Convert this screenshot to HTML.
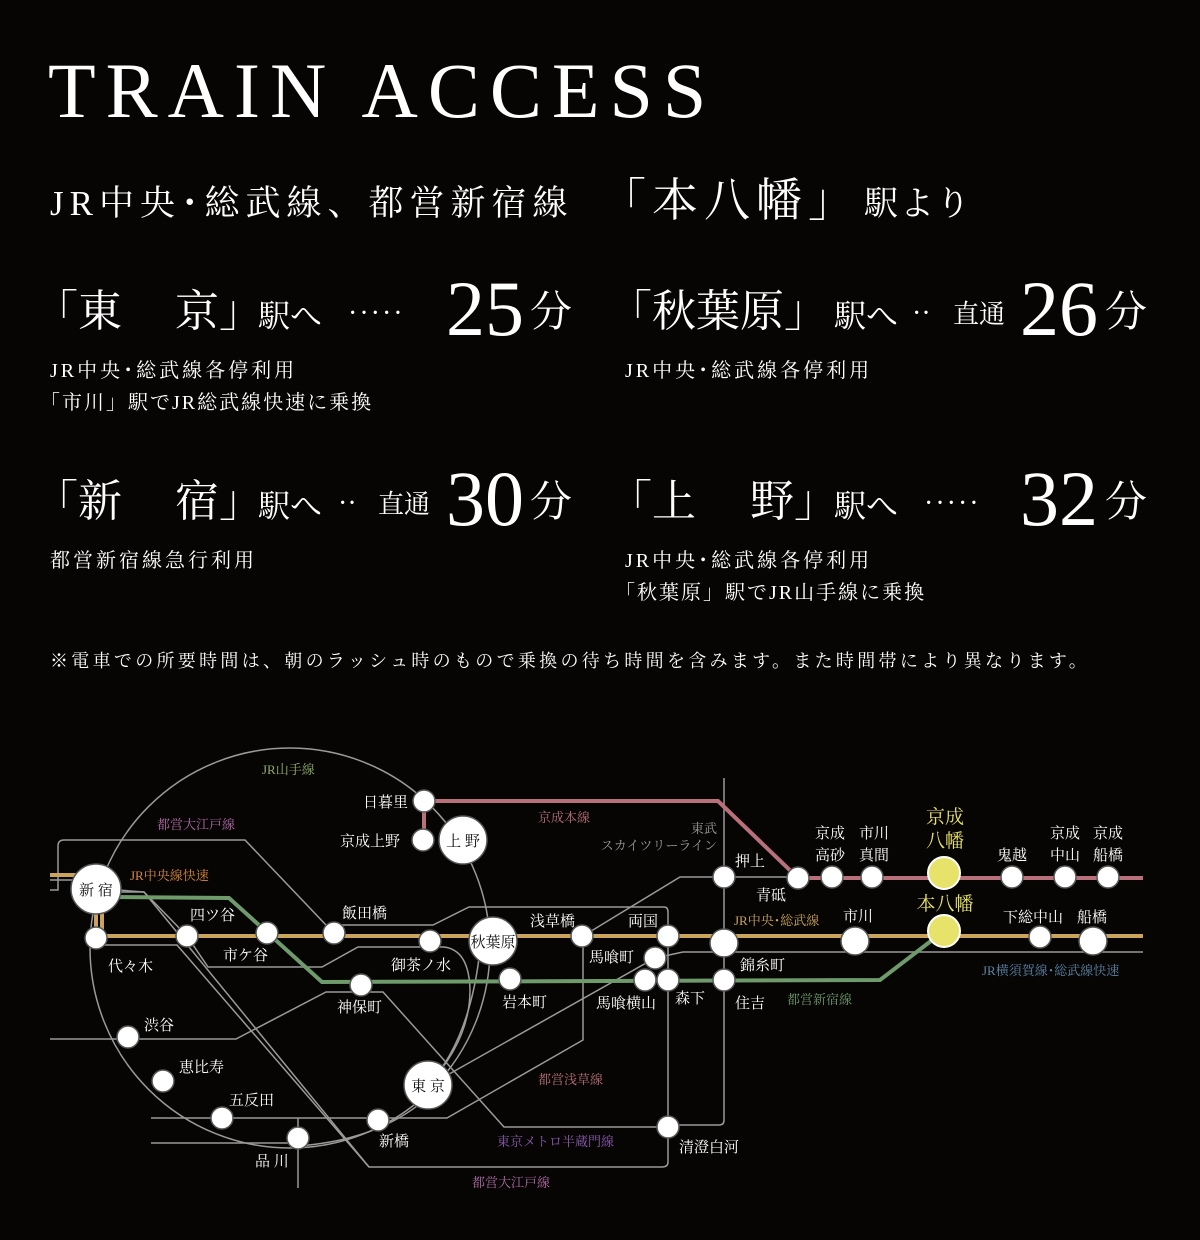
<!DOCTYPE html>
<html><head><meta charset="utf-8"><style>
html,body{margin:0;padding:0;background:#070503;}
body{width:1200px;height:1240px;position:relative;overflow:hidden;color:#fff;font-family:"Liberation Serif","Noto Serif CJK SC",serif;}
.a{position:absolute;white-space:nowrap;line-height:1;}
svg{position:absolute;left:0;top:0;}
</style></head><body>
<div class="a" style="left:48px;top:52px;font-size:78px;letter-spacing:10px;">TRAIN ACCESS</div>

<div class="a" style="left:50px;top:186px;font-size:35px;letter-spacing:6px;">JR中央･総武線、都営新宿線</div>
<div class="a" style="left:600px;top:178px;font-size:46px;letter-spacing:6px;">「本八幡」</div>
<div class="a" style="left:864px;top:188px;font-size:34px;letter-spacing:2px;">駅より</div>

<!-- row 1 -->
<div class="a" style="left:34px;top:290px;font-size:44px;">「東</div>
<div class="a" style="left:175px;top:290px;font-size:44px;">京」</div>
<div class="a" style="left:258px;top:300px;font-size:32px;">駅へ</div>
<div class="a" style="left:348px;top:300px;font-size:28px;letter-spacing:2px;">·····</div>
<div class="a" style="left:446px;top:270px;font-size:78px;">25</div>
<div class="a" style="left:530px;top:292px;font-size:42px;">分</div>
<div class="a" style="left:50px;top:361px;font-size:20px;letter-spacing:3px;">JR中央･総武線各停利用</div>
<div class="a" style="left:40px;top:393px;font-size:20px;letter-spacing:2px;">「市川」駅でJR総武線快速に乗換</div>

<div class="a" style="left:608px;top:290px;font-size:44px;letter-spacing:0px;">「秋葉原」</div>
<div class="a" style="left:834px;top:300px;font-size:32px;">駅へ</div>
<div class="a" style="left:912px;top:300px;font-size:28px;">··</div>
<div class="a" style="left:953px;top:302px;font-size:26px;">直通</div>
<div class="a" style="left:1020px;top:270px;font-size:78px;">26</div>
<div class="a" style="left:1105px;top:292px;font-size:42px;">分</div>
<div class="a" style="left:625px;top:361px;font-size:20px;letter-spacing:3px;">JR中央･総武線各停利用</div>

<!-- row 2 -->
<div class="a" style="left:34px;top:480px;font-size:44px;">「新</div>
<div class="a" style="left:175px;top:480px;font-size:44px;">宿」</div>
<div class="a" style="left:258px;top:490px;font-size:32px;">駅へ</div>
<div class="a" style="left:338px;top:490px;font-size:28px;">··</div>
<div class="a" style="left:378px;top:492px;font-size:26px;">直通</div>
<div class="a" style="left:446px;top:460px;font-size:78px;">30</div>
<div class="a" style="left:530px;top:482px;font-size:42px;">分</div>
<div class="a" style="left:50px;top:551px;font-size:20px;letter-spacing:3px;">都営新宿線急行利用</div>

<div class="a" style="left:608px;top:480px;font-size:44px;">「上</div>
<div class="a" style="left:750px;top:480px;font-size:44px;">野」</div>
<div class="a" style="left:834px;top:490px;font-size:32px;">駅へ</div>
<div class="a" style="left:924px;top:490px;font-size:28px;letter-spacing:2px;">·····</div>
<div class="a" style="left:1020px;top:460px;font-size:78px;">32</div>
<div class="a" style="left:1105px;top:482px;font-size:42px;">分</div>
<div class="a" style="left:625px;top:551px;font-size:20px;letter-spacing:3px;">JR中央･総武線各停利用</div>
<div class="a" style="left:615px;top:583px;font-size:20px;letter-spacing:2px;">「秋葉原」駅でJR山手線に乗換</div>

<div class="a" style="left:50px;top:652px;font-size:18px;letter-spacing:3.3px;">※電車での所要時間は、朝のラッシュ時のもので乗換の待ち時間を含みます。また時間帯により異なります。</div>

<svg width="1200" height="1240" viewBox="0 0 1200 1240" font-family="Liberation Serif, Noto Serif CJK SC, serif">
<g fill="none" stroke="#9a9a9a" stroke-width="1.5">
 <circle cx="290" cy="948" r="200"/>
 <path d="M298 1146 Q380 1140 428 1097"/>
 <path d="M480 950 Q470 1040 428 1085"/>
 <path d="M50 890 L58 890 L58 846 Q58 840 64 840 L245 840 L326 925 L433 925 L469 907 L664 907 Q668 907 668 912 L668 1162 Q668 1167 662 1167 L369 1167 L144 892 L118 890"/>
 <path d="M96 945 L177 945 L369 1167"/>
 <path d="M118 892 L144 892 L187 936 L208 967 L322 967 L358 947 L444 947 Q469 950 470 990 Q470 1040 428 1085"/>
 <path d="M50 1039 L236 1039 L326 992 L383 992 L504 1127 L668 1127"/>
 <path d="M151 1118 L447 1118 L583 1040 L583 936 L680 877 L798 877"/>
 <path d="M428 1085 L451 1073 L655 958 L683 952 L1143 952"/>
 <path d="M151 1143 L298 1143"/>
 <path d="M298 1118 L298 1188"/>
 <path d="M724 778 L724 1120 Q724 1125 719 1125 L668 1125"/>
 <path d="M50 880 L84 880"/>
</g>
<g fill="none" stroke="#c9a45a" stroke-width="4">
 <path d="M50 875 L80 875"/>
 <path d="M96 905 L96 936 L1143 936"/>
 <path d="M102 905 L102 936"/>
</g>
<path d="M424 840 L424 801 L718 801 L798 878 L1143 878" fill="none" stroke="#b8707a" stroke-width="4"/>
<path d="M110 897 L229 898 L322 982 L880 980 L944 931" fill="none" stroke="#6f9a6c" stroke-width="4"/>

<g fill="#fff" stroke="#555" stroke-width="1.5">
 <circle cx="96" cy="889" r="25"/><circle cx="96" cy="938" r="11"/>
 <circle cx="187" cy="936" r="11"/><circle cx="267" cy="933" r="11"/><circle cx="334" cy="933" r="11"/>
 <circle cx="430" cy="941" r="11"/><circle cx="493" cy="941" r="24"/><circle cx="582" cy="936" r="11"/>
 <circle cx="668" cy="936" r="11"/><circle cx="724" cy="943" r="14"/><circle cx="855" cy="941" r="14"/>
 <circle cx="1040" cy="937" r="11"/><circle cx="1093" cy="941" r="14"/>
 <circle cx="424" cy="801" r="11"/><circle cx="423" cy="840" r="11"/><circle cx="463" cy="840" r="24"/>
 <circle cx="724" cy="877" r="11"/><circle cx="798" cy="878" r="11"/><circle cx="832" cy="877" r="11"/>
 <circle cx="872" cy="877" r="11"/><circle cx="1012" cy="877" r="11"/><circle cx="1065" cy="877" r="11"/><circle cx="1108" cy="877" r="11"/>
 <circle cx="361" cy="985" r="11"/><circle cx="510" cy="979" r="11"/><circle cx="645" cy="980" r="11"/>
 <circle cx="668" cy="980" r="11"/><circle cx="724" cy="980" r="11"/><circle cx="655" cy="958" r="11"/>
 <circle cx="128" cy="1037" r="11"/><circle cx="163" cy="1081" r="11"/><circle cx="222" cy="1118" r="11"/>
 <circle cx="298" cy="1138" r="11"/><circle cx="378" cy="1120" r="11"/><circle cx="428" cy="1085" r="24"/>
 <circle cx="668" cy="1127" r="11"/>
</g>
<g fill="#e6e26a" stroke="#fff" stroke-width="2">
 <circle cx="944" cy="873" r="16"/><circle cx="944" cy="931" r="16"/>
</g>

<g fill="#111" font-size="15" text-anchor="middle">
 <text x="96" y="895">新 宿</text><text x="493" y="947">秋葉原</text><text x="463" y="846">上 野</text><text x="428" y="1091">東 京</text>
</g>
<g fill="#fff" font-size="15">
 <text x="363" y="807">日暮里</text><text x="340" y="846">京成上野</text>
 <text x="190" y="920">四ツ谷</text><text x="223" y="960">市ケ谷</text><text x="342" y="918">飯田橋</text>
 <text x="391" y="970">御茶ノ水</text><text x="108" y="971">代々木</text><text x="530" y="926">浅草橋</text>
 <text x="628" y="926">両国</text><text x="589" y="962">馬喰町</text><text x="337" y="1012">神保町</text>
 <text x="502" y="1007">岩本町</text><text x="596" y="1008">馬喰横山</text><text x="675" y="1003">森下</text>
 <text x="735" y="1008">住吉</text><text x="740" y="970">錦糸町</text><text x="735" y="866">押上</text>
 <text x="756" y="900">青砥</text><text x="843" y="921">市川</text>
 <text x="815" y="838">京成</text><text x="815" y="860">高砂</text><text x="859" y="838">市川</text><text x="859" y="860">真間</text>
 <text x="997" y="860">鬼越</text><text x="1050" y="838">京成</text><text x="1050" y="860">中山</text>
 <text x="1093" y="838">京成</text><text x="1093" y="860">船橋</text>
 <text x="1003" y="922">下総中山</text><text x="1077" y="922">船橋</text>
 <text x="144" y="1030">渋谷</text><text x="179" y="1072">恵比寿</text><text x="229" y="1105">五反田</text>
 <text x="255" y="1166">品 川</text><text x="379" y="1146">新橋</text><text x="679" y="1152">清澄白河</text>
</g>
<g fill="#e6e26a" font-size="19" text-anchor="middle">
 <text x="945" y="823">京成</text><text x="945" y="847">八幡</text><text x="945" y="910">本八幡</text>
</g>
<g font-size="13">
 <text x="262" y="774" fill="#8fae6a">JR山手線</text>
 <text x="157" y="829" fill="#b06aa8">都営大江戸線</text>
 <text x="130" y="880" fill="#d88a3a">JR中央線快速</text>
 <text x="538" y="822" fill="#b8707a">京成本線</text>
 <text x="717" y="833" fill="#999" text-anchor="end">東武</text>
 <text x="717" y="850" fill="#999" text-anchor="end">スカイツリーライン</text>
 <text x="734" y="925" fill="#c9a45a">JR中央･総武線</text>
 <text x="787" y="1004" fill="#6f9a6c">都営新宿線</text>
 <text x="982" y="975" fill="#5b84a8">JR横須賀線･総武線快速</text>
 <text x="538" y="1084" fill="#b8707a">都営浅草線</text>
 <text x="497" y="1146" fill="#8a5ab0">東京メトロ半蔵門線</text>
 <text x="472" y="1187" fill="#b06aa8">都営大江戸線</text>
</g>
</svg>
</body></html>
